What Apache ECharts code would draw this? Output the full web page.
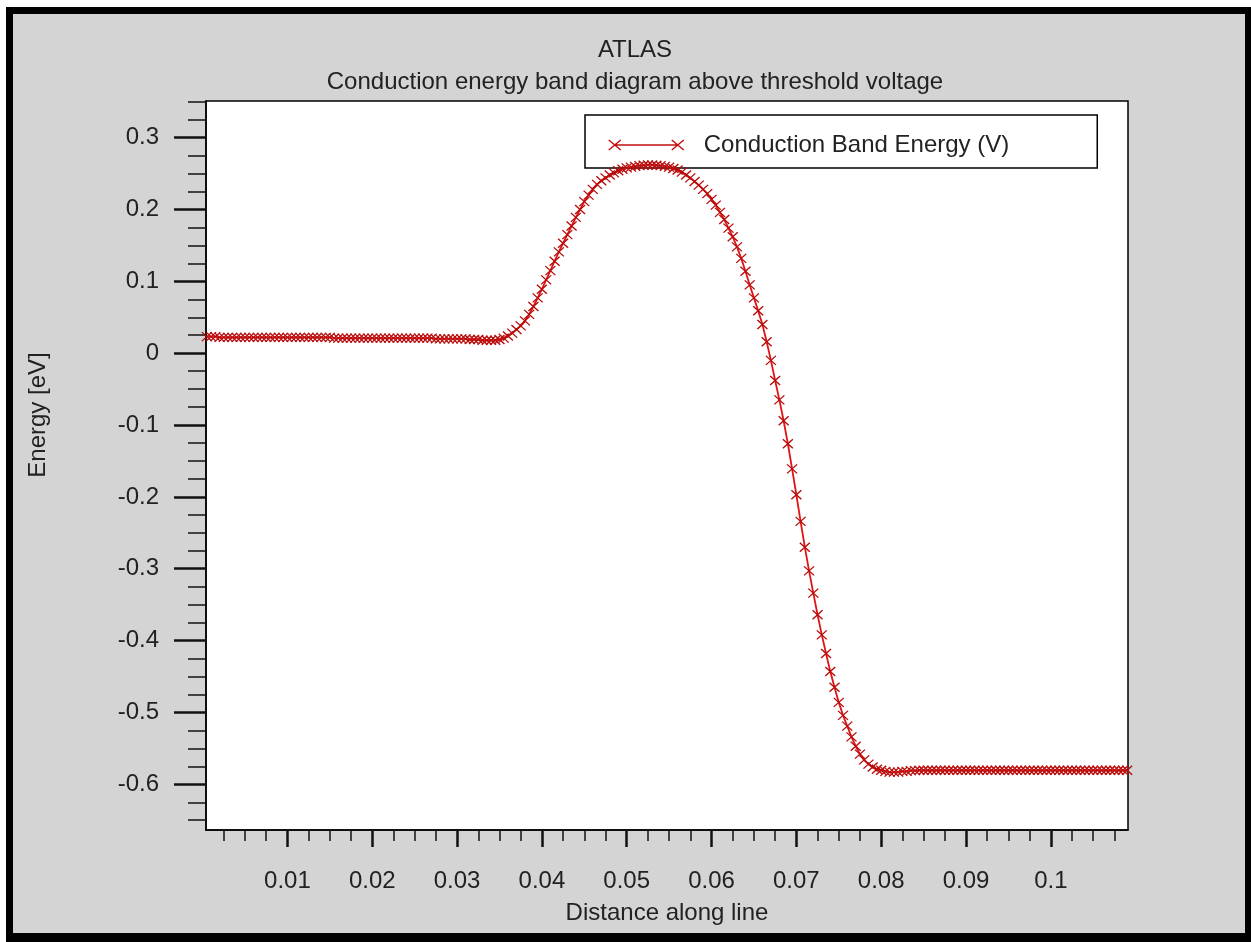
<!DOCTYPE html>
<html>
<head>
<meta charset="utf-8">
<script src="https://cdn.jsdelivr.net/npm/echarts@6/dist/echarts.min.js"></script>
<style>
  html, body { margin: 0; padding: 0; background: #fff; }
  #frame {
    position: absolute; left: 6px; top: 7px; width: 1245px; height: 935px;
    box-sizing: border-box; background: #d4d4d4;
    border-style: solid; border-color: #000; border-width: 7px 6px 9px 7px;
  }
  #chart { position: absolute; left: 0; top: 0; width: 1251px; height: 942px; }
</style>
</head>
<body>
<div id="frame"></div>
<div id="chart"></div>
<script>
// distance along the cut line (mesh nodes)
const distance = [
  0.0005, 0.0010, 0.0015, 0.0020, 0.0025, 0.0030, 0.0035, 0.0040, 0.0045, 0.0050,
  0.0055, 0.0060, 0.0065, 0.0070, 0.0075, 0.0080, 0.0085, 0.0090, 0.0095, 0.0100,
  0.0105, 0.0110, 0.0115, 0.0120, 0.0125, 0.0130, 0.0135, 0.0140, 0.0145, 0.0150,
  0.0155, 0.0160, 0.0165, 0.0170, 0.0175, 0.0180, 0.0185, 0.0190, 0.0195, 0.0200,
  0.0205, 0.0210, 0.0215, 0.0220, 0.0225, 0.0230, 0.0235, 0.0240, 0.0245, 0.0250,
  0.0255, 0.0260, 0.0265, 0.0270, 0.0275, 0.0280, 0.0285, 0.0290, 0.0295, 0.0300,
  0.0305, 0.0310, 0.0315, 0.0320, 0.0325, 0.0330, 0.0335, 0.0340, 0.0345, 0.0350,
  0.0355, 0.0360, 0.0365, 0.0370, 0.0375, 0.0380, 0.0385, 0.0390, 0.0395, 0.0400,
  0.0405, 0.0410, 0.0415, 0.0420, 0.0425, 0.0430, 0.0435, 0.0440, 0.0445, 0.0450,
  0.0455, 0.0460, 0.0465, 0.0470, 0.0475, 0.0480, 0.0485, 0.0490, 0.0495, 0.0500,
  0.0505, 0.0510, 0.0515, 0.0520, 0.0525, 0.0530, 0.0535, 0.0540, 0.0545, 0.0550,
  0.0555, 0.0560, 0.0565, 0.0570, 0.0575, 0.0580, 0.0585, 0.0590, 0.0595, 0.0600,
  0.0605, 0.0610, 0.0615, 0.0620, 0.0625, 0.0630, 0.0635, 0.0640, 0.0645, 0.0650,
  0.0655, 0.0660, 0.0665, 0.0670, 0.0675, 0.0680, 0.0685, 0.0690, 0.0695, 0.0700,
  0.0705, 0.0710, 0.0715, 0.0720, 0.0725, 0.0730, 0.0735, 0.0740, 0.0745, 0.0750,
  0.0755, 0.0760, 0.0765, 0.0770, 0.0775, 0.0780, 0.0785, 0.0790, 0.0795, 0.0800,
  0.0805, 0.0810, 0.0815, 0.0820, 0.0825, 0.0830, 0.0835, 0.0840, 0.0845, 0.0850,
  0.0855, 0.0860, 0.0865, 0.0870, 0.0875, 0.0880, 0.0885, 0.0890, 0.0895, 0.0900,
  0.0905, 0.0910, 0.0915, 0.0920, 0.0925, 0.0930, 0.0935, 0.0940, 0.0945, 0.0950,
  0.0955, 0.0960, 0.0965, 0.0970, 0.0975, 0.0980, 0.0985, 0.0990, 0.0995, 0.1000,
  0.1005, 0.1010, 0.1015, 0.1020, 0.1025, 0.1030, 0.1035, 0.1040, 0.1045, 0.1050,
  0.1055, 0.1060, 0.1065, 0.1070, 0.1075, 0.1080, 0.1085, 0.1090
];

// conduction band energy [eV]
const energy = [
  0.023, 0.023, 0.023, 0.022, 0.022, 0.022, 0.022, 0.022, 0.022, 0.022,
  0.022, 0.022, 0.022, 0.022, 0.022, 0.022, 0.022, 0.022, 0.022, 0.022,
  0.022, 0.022, 0.022, 0.022, 0.022, 0.022, 0.022, 0.022, 0.022, 0.022,
  0.021, 0.021, 0.021, 0.021, 0.021, 0.021, 0.021, 0.021, 0.021, 0.021,
  0.021, 0.021, 0.021, 0.021, 0.021, 0.021, 0.021, 0.021, 0.021, 0.021,
  0.021, 0.021, 0.021, 0.021, 0.020, 0.020, 0.020, 0.020, 0.020, 0.020,
  0.020, 0.020, 0.019, 0.019, 0.019, 0.018, 0.018, 0.018, 0.018, 0.019,
  0.021, 0.024, 0.028, 0.033, 0.038, 0.045, 0.054, 0.065, 0.077, 0.089,
  0.102, 0.115, 0.128, 0.141, 0.153, 0.165, 0.177, 0.189, 0.200, 0.211,
  0.220, 0.228, 0.235, 0.240, 0.244, 0.248, 0.251, 0.254, 0.256, 0.258,
  0.259, 0.260, 0.261, 0.2615, 0.262, 0.262, 0.2615, 0.261, 0.260, 0.259,
  0.257, 0.255, 0.252, 0.248, 0.244, 0.239, 0.234, 0.228, 0.222, 0.214,
  0.206, 0.196, 0.186, 0.174, 0.162, 0.148, 0.132, 0.114, 0.095, 0.077,
  0.059, 0.040, 0.016, -0.010, -0.038, -0.065, -0.094, -0.126, -0.161, -0.197,
  -0.234, -0.270, -0.303, -0.334, -0.364, -0.392, -0.418, -0.443, -0.465, -0.486,
  -0.504, -0.519, -0.534, -0.547, -0.558, -0.566, -0.572, -0.576, -0.579, -0.5805,
  -0.582, -0.583, -0.583, -0.583, -0.582, -0.582, -0.581, -0.581, -0.5805, -0.5805,
  -0.5805, -0.5805, -0.5805, -0.5805, -0.5805, -0.5805, -0.5805, -0.5805, -0.5805, -0.5805,
  -0.5805, -0.5805, -0.5805, -0.5805, -0.5805, -0.5805, -0.5805, -0.5805, -0.5805, -0.5805,
  -0.5805, -0.5805, -0.5805, -0.5805, -0.5805, -0.5805, -0.5805, -0.5805, -0.5805, -0.5805,
  -0.5805, -0.5805, -0.5805, -0.5805, -0.5805, -0.5805, -0.5805, -0.5805, -0.5805, -0.5805,
  -0.5805, -0.5805, -0.5805, -0.5805, -0.5805, -0.5805, -0.5805, -0.5805
];

const xMajor = [0.01, 0.02, 0.03, 0.04, 0.05, 0.06, 0.07, 0.08, 0.09, 0.1];
const xMinor = [0.0025, 0.005, 0.0075, 0.0125, 0.015, 0.0175, 0.0225, 0.025, 0.0275,
  0.0325, 0.035, 0.0375, 0.0425, 0.045, 0.0475, 0.0525, 0.055, 0.0575,
  0.0625, 0.065, 0.0675, 0.0725, 0.075, 0.0775, 0.0825, 0.085, 0.0875,
  0.0925, 0.095, 0.0975, 0.1025, 0.105, 0.1075];
const yMajor = [-0.6, -0.5, -0.4, -0.3, -0.2, -0.1, 0, 0.1, 0.2, 0.3];
const yMinor = [-0.65, -0.625, -0.575, -0.55, -0.525, -0.475, -0.45, -0.425,
  -0.375, -0.35, -0.325, -0.275, -0.25, -0.225, -0.175, -0.15, -0.125,
  -0.075, -0.05, -0.025, 0.025, 0.05, 0.075, 0.125, 0.15, 0.175,
  0.225, 0.25, 0.275, 0.325, 0.35];

const FONT = '"Liberation Sans", Arial, sans-serif';
const X_MIN = 0.0004, X_MAX = 0.1091;
const Y_MIN = -0.6636, Y_MAX = 0.351;

const crossSymbol = 'path://M0,0L10,8M0,8L10,0';
const legendIcon = 'path://M0,0L12,10M0,10L12,0M6,5L69,5M63,0L75,10M63,10L75,0';

const chart = echarts.init(document.getElementById('chart'));

function xAxisOf(ticks, len, width, showLabel) {
  return {
    type: 'value', position: 'bottom', min: X_MIN, max: X_MAX,
    axisLine: { show: showLabel, onZero: false, lineStyle: { color: '#000', width: 1.5 } },
    axisTick: { show: true, customValues: ticks, length: len, lineStyle: { color: '#111', width: width } },
    axisLabel: showLabel ? { customValues: ticks, margin: 39, fontSize: 24, color: '#222', fontFamily: FONT } : { show: false },
    splitLine: { show: false }
  };
}
function yAxisOf(ticks, len, width, showLabel) {
  return {
    type: 'value', position: 'left', min: Y_MIN, max: Y_MAX,
    axisLine: { show: showLabel, onZero: false, lineStyle: { color: '#000', width: 1.5 } },
    axisTick: { show: true, customValues: ticks, length: len, lineStyle: { color: '#111', width: width } },
    axisLabel: showLabel ? { customValues: ticks, margin: 47, fontSize: 24, color: '#222', fontFamily: FONT } : { show: false },
    splitLine: { show: false }
  };
}

const xMain = xAxisOf(xMajor, 17, 2.5, true);
xMain.name = 'Distance along line';
xMain.nameLocation = 'middle';
xMain.nameGap = 71;
xMain.nameTextStyle = { fontSize: 24, color: '#222', fontFamily: FONT };

chart.setOption({
  animation: false,
  backgroundColor: 'transparent',
  title: [
    { text: 'ATLAS', left: 635, top: 38, textAlign: 'center', padding: 0,
      textStyle: { fontSize: 24, fontWeight: 'normal', color: '#222', fontFamily: FONT } },
    { text: 'Conduction energy band diagram above threshold voltage', left: 635, top: 70, textAlign: 'center', padding: 0,
      textStyle: { fontSize: 24, fontWeight: 'normal', color: '#222', fontFamily: FONT } }
  ],
  legend: {
    left: 585, top: 115,
    padding: [18, 88, 11, 23],
    backgroundColor: '#fff', borderColor: '#000', borderWidth: 1.5, borderRadius: 0,
    itemWidth: 75, itemHeight: 12,
    icon: legendIcon,
    itemStyle: { color: 'rgba(0,0,0,0)', borderColor: '#c41010', borderWidth: 1.5 },
    textStyle: { fontSize: 24, color: '#222', fontFamily: FONT, padding: [0, 0, 0, 15] },
    selectedMode: false
  },
  grid: {
    left: 206, top: 101, right: 123, bottom: 112,
    show: true, backgroundColor: '#fff', borderColor: '#000', borderWidth: 1.5
  },
  xAxis: [xMain, xAxisOf(xMinor, 11, 1.5, false)],
  yAxis: [yAxisOf(yMajor, 32, 2.5, true), yAxisOf(yMinor, 18, 1.5, false)],
  graphic: [{
    type: 'text', x: 38, y: 415, rotation: Math.PI / 2,
    style: { text: 'Energy [eV]', fill: '#222', fontSize: 24, fontFamily: FONT, align: 'center', verticalAlign: 'middle' }
  }],
  series: [{
    name: 'Conduction Band Energy (V)',
    type: 'line',
    z: 6,
    xAxisIndex: 0, yAxisIndex: 0,
    data: distance.map((d, i) => [d, energy[i]]),
    symbol: crossSymbol,
    symbolSize: [10, 9],
    itemStyle: { color: 'rgba(0,0,0,0)', borderColor: '#b80c0c', borderWidth: 1.3 },
    lineStyle: { color: '#e01414', width: 1.8 },
    emphasis: { disabled: true }
  }]
});
</script>
</body>
</html>
